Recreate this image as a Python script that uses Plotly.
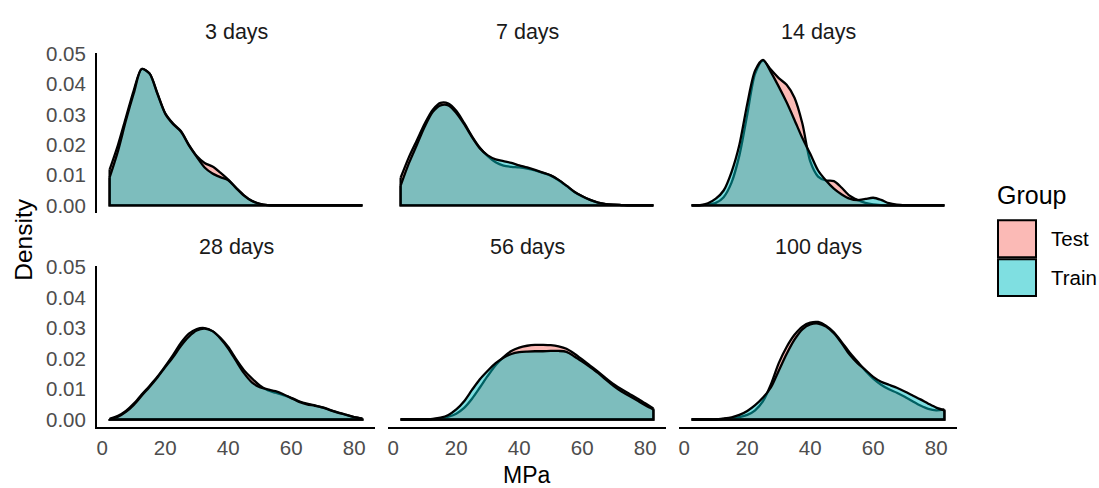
import plotly.graph_objects as go

# ---------------- data ----------------
MPA = [2.33, 5, 7.5, 10, 12.5, 15, 17.5, 20, 22.5, 25, 27.5, 30, 32.5, 35, 37.5, 40,
       42.5, 45, 47.5, 50, 52.5, 55, 57.5, 60, 62.5, 65, 67.5, 70, 72.5, 75, 77.5, 80, 82.6]

panels = ["3 days", "7 days", "14 days", "28 days", "56 days", "100 days"]
groups = ["Test", "Train"]

test_3 = [0.0118, 0.020, 0.029, 0.038, 0.0450, 0.0435, 0.037, 0.0304, 0.027, 0.0245, 0.020,
          0.0163, 0.0140, 0.0128, 0.0108, 0.0085, 0.0058, 0.0033, 0.0015, 0.0005, 0.0001,
          0, 0, 0, 0, 0, 0, 0, 0, 0, 0, 0, 0]
train_3 = [0.0092, 0.018, 0.028, 0.037, 0.0450, 0.0435, 0.0368, 0.0302, 0.0268, 0.0243, 0.0198,
           0.016, 0.0125, 0.0105, 0.0093, 0.0083, 0.0057, 0.0032, 0.0014, 0.0005, 0.0001,
           0, 0, 0, 0, 0, 0, 0, 0, 0, 0, 0, 0]

test_7 = [0.0091, 0.016, 0.0215, 0.027, 0.0315, 0.0338, 0.0336, 0.0312, 0.0272, 0.0228, 0.019,
          0.0162, 0.0142, 0.0131, 0.0127, 0.0125, 0.0121, 0.0115, 0.0107, 0.0098, 0.0083,
          0.0064, 0.0044, 0.003, 0.0018, 0.0009, 0.0004, 0.0002, 0.0001, 0, 0, 0, 0]
train_7 = [0.0065, 0.014, 0.020, 0.026, 0.0308, 0.0330, 0.0330, 0.0305, 0.0268, 0.0225, 0.0188,
           0.0165, 0.0152, 0.0146, 0.0140, 0.0132, 0.0125, 0.0117, 0.0108, 0.0099, 0.0084,
           0.0065, 0.0045, 0.003, 0.0018, 0.0009, 0.0004, 0.0002, 0.0001, 0, 0, 0, 0]

test_14 = [0, 0, 0.0002, 0.0008, 0.0027, 0.0075, 0.0165, 0.030, 0.0435, 0.0478, 0.0448,
           0.0420, 0.0398, 0.0355, 0.0270, 0.0145, 0.0095, 0.0082, 0.0080, 0.0058, 0.0032,
           0.0018, 0.0008, 0.0003, 0.0001, 0, 0, 0, 0, 0, 0, 0, 0]
train_14 = [0, 0.0001, 0.0007, 0.0022, 0.0049, 0.011, 0.020, 0.0335, 0.0445, 0.0480, 0.0440,
            0.0392, 0.0340, 0.0282, 0.0222, 0.0170, 0.0115, 0.0082, 0.0055, 0.0036, 0.0022,
            0.0017, 0.0021, 0.0025, 0.0018, 0.0007, 0.0002, 0, 0, 0, 0, 0, 0]

test_28 = [0.0002, 0.0012, 0.0028, 0.0052, 0.0082, 0.011, 0.014, 0.0175, 0.0212, 0.0252, 0.0282,
           0.0297, 0.0300, 0.0290, 0.0268, 0.0238, 0.0198, 0.0162, 0.0135, 0.0112, 0.0096,
           0.0088, 0.0080, 0.0071, 0.0060, 0.0052, 0.0046, 0.0040, 0.0031, 0.0023, 0.0015,
           0.0008, 0.0003]
train_28 = [0.0001, 0.0009, 0.0025, 0.0048, 0.0078, 0.0107, 0.0138, 0.0172, 0.0205, 0.0242, 0.0272,
            0.0292, 0.0298, 0.0290, 0.0266, 0.0233, 0.0192, 0.0152, 0.0122, 0.0106, 0.0099,
            0.0093, 0.0083, 0.0070, 0.0058, 0.0050, 0.0045, 0.0039, 0.0030, 0.0022, 0.0015,
            0.0008, 0.0003]

test_56 = [0, 0, 0, 0, 0.0001, 0.0003, 0.0009, 0.0019, 0.0038, 0.0068, 0.0105, 0.0143, 0.0178,
           0.0205, 0.0225, 0.0236, 0.0242, 0.0245, 0.0245, 0.0244, 0.0240, 0.0232, 0.0216,
           0.0197, 0.0177, 0.0157, 0.0136, 0.0116, 0.0099, 0.0084, 0.0069, 0.0053, 0.0036]
train_56 = [0, 0, 0, 0, 0.0002, 0.0006, 0.0015, 0.0033, 0.006, 0.0097, 0.0132, 0.0160, 0.0185,
            0.0203, 0.0215, 0.0221, 0.0223, 0.0224, 0.0224, 0.0225, 0.0225, 0.0222, 0.0207,
            0.0190, 0.0172, 0.0153, 0.0131, 0.0110, 0.0092, 0.0077, 0.0062, 0.0047, 0.0033]

test_100 = [0, 0, 0, 0, 0.0002, 0.0004, 0.0008, 0.0015, 0.003, 0.006, 0.0115, 0.0185, 0.0238,
            0.0278, 0.0305, 0.0318, 0.0320, 0.0308, 0.0286, 0.0254, 0.0220, 0.0190, 0.0160,
            0.0134, 0.0114, 0.0099, 0.0088, 0.0075, 0.0060, 0.0046, 0.0035, 0.0030, 0.0033]
train_100 = [0, 0, 0, 0, 0.0003, 0.0007, 0.0015, 0.0028, 0.0047, 0.0072, 0.0105, 0.0160, 0.0215,
             0.0262, 0.0296, 0.0312, 0.0315, 0.0305, 0.0283, 0.0250, 0.0213, 0.0185, 0.0163,
             0.0140, 0.0124, 0.0114, 0.0104, 0.0092, 0.0079, 0.0066, 0.0052, 0.0039, 0.0030]

series = {
    "3 days": (test_3, train_3),
    "7 days": (test_7, train_7),
    "14 days": (test_14, train_14),
    "28 days": (test_28, train_28),
    "56 days": (test_56, train_56),
    "100 days": (test_100, train_100),
}

x_ticks = [0, 20, 40, 60, 80]
y_ticks = [0, 0.01, 0.02, 0.03, 0.04, 0.05]
y_tick_labels = ["0.00", "0.01", "0.02", "0.03", "0.04", "0.05"]

# ---------------- styling ----------------
W, H = 1099, 488
FONT = "Liberation Sans, Arial, Helvetica, sans-serif"
FILL = {"Test": "rgba(248,118,109,0.5)", "Train": "rgba(0,191,196,0.5)"}
X_RANGE = [-1.68, 86.61]
Y_RANGE = [-0.0024, 0.0504]
TICK_SIZE = 20.5
LW = 2.3

def px_x(p):
    return p / W

def px_y(p):
    return 1 - p / H

fig = go.Figure()
layout = {}

for i, name in enumerate(panels):
    row, col = divmod(i, 3)
    xa = "x" if i == 0 else f"x{i+1}"
    ya = "y" if i == 0 else f"y{i+1}"
    left = 97 + 291 * col
    right = left + 278
    top, bottom = (43, 208) if row == 0 else (263, 429)

    layout["xaxis" if i == 0 else f"xaxis{i+1}"] = dict(
        domain=[px_x(left), px_x(right)], range=X_RANGE, anchor=ya,
        showgrid=False, zeroline=False, ticks="",
        showline=(row == 1), linecolor="black", linewidth=2,
        showticklabels=(row == 1), tickvals=x_ticks,
        tickfont=dict(family=FONT, size=TICK_SIZE, color="#4D4D4D"),
        ticklabelstandoff=2, fixedrange=True,
    )
    layout["yaxis" if i == 0 else f"yaxis{i+1}"] = dict(
        domain=[px_y(bottom), px_y(top)], range=Y_RANGE, anchor=xa,
        showgrid=False, zeroline=False, ticks="",
        showline=(col == 0), linecolor="black", linewidth=2,
        showticklabels=(col == 0), tickvals=y_ticks, ticktext=y_tick_labels,
        tickfont=dict(family=FONT, size=TICK_SIZE, color="#4D4D4D"),
        ticklabelstandoff=5, fixedrange=True,
    )

    for g, vals in zip(groups, series[name]):
        fig.add_trace(go.Scatter(
            x=MPA, y=vals, mode="lines", xaxis=xa, yaxis=ya,
            line=dict(color="black", width=LW, shape="spline", smoothing=0.8),
            fill="tozeroy", fillcolor=FILL[g], showlegend=False, hoverinfo="skip",
        ))
        fig.add_trace(go.Scatter(
            x=[MPA[0], MPA[0], MPA[-1], MPA[-1]], y=[vals[0], 0, 0, vals[-1]],
            mode="lines", xaxis=xa, yaxis=ya,
            line=dict(color="black", width=LW), showlegend=False, hoverinfo="skip",
        ))

annotations = []
for i, name in enumerate(panels):
    row, col = divmod(i, 3)
    cx = 97 + 291 * col + 139
    cy = 22 if row == 0 else 243
    annotations.append(dict(
        text=name, x=px_x(cx), y=px_y(cy), xref="paper", yref="paper",
        xanchor="center", yanchor="middle", showarrow=False,
        font=dict(family=FONT, size=21.5, color="#1A1A1A"),
    ))

annotations.append(dict(text="Density", x=px_x(24), y=px_y(236), xref="paper", yref="paper",
                        textangle=-90, xanchor="center", yanchor="middle", showarrow=False,
                        font=dict(family=FONT, size=24.5, color="black")))
annotations.append(dict(text="MPa", x=px_x(527), y=px_y(479), xref="paper", yref="paper",
                        xanchor="center", yanchor="middle", showarrow=False, borderpad=0,
                        font=dict(family=FONT, size=23, color="black")))

# manual legend
annotations.append(dict(text="Group", x=px_x(995), y=px_y(190), xref="paper", yref="paper",
                        xanchor="left", yanchor="middle", showarrow=False,
                        font=dict(family=FONT, size=25, color="black")))
shapes = []
for g, (t, b) in zip(groups, [(216, 254), (256, 294)]):
    shapes.append(dict(type="rect", xref="paper", yref="paper",
                       x0=px_x(998), x1=px_x(1036), y0=px_y(b), y1=px_y(t),
                       fillcolor=FILL[g], line=dict(color="black", width=2)))
    annotations.append(dict(text=g, x=px_x(1049), y=px_y((t + b) / 2), xref="paper", yref="paper",
                            xanchor="left", yanchor="middle", showarrow=False,
                            font=dict(family=FONT, size=20.5, color="black")))

fig.update_layout(
    width=W, height=H, margin=dict(l=0, r=0, t=0, b=0),
    paper_bgcolor="white", plot_bgcolor="white",
    showlegend=False, annotations=annotations, shapes=shapes,
    **layout,
)

fig.write_html("out.html")
